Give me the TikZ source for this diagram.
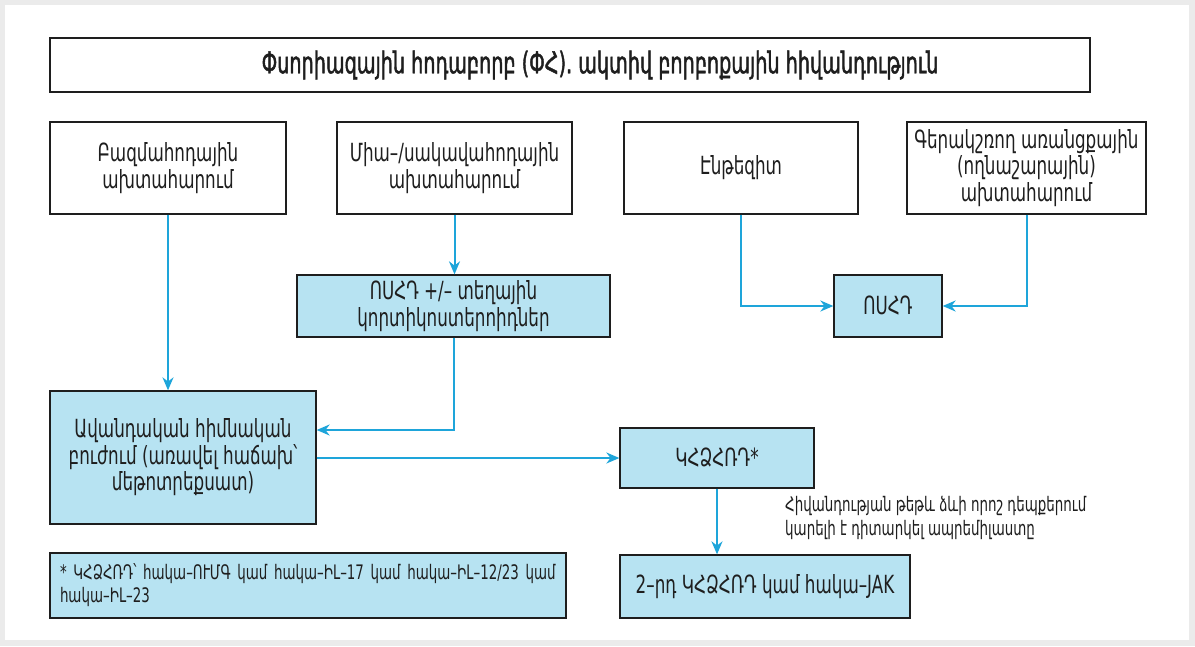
\documentclass[tikz,border=0pt]{standalone}
\usepackage{fontspec}
\setmainfont{DejaVu Sans}[FakeStretch=0.67]
\newfontfamily\headfont{DejaVu Sans}[FakeStretch=0.64, FakeBold=1.4]
\usetikzlibrary{arrows.meta}
\definecolor{panelgray}{HTML}{EBEBEB}
\definecolor{boxblue}{HTML}{B7E3F2}
\definecolor{arrowblue}{HTML}{1EA5DA}
\definecolor{inkgray}{HTML}{1E1E1E}
\begin{document}
\begin{tikzpicture}[x=1pt,y=-1pt,
  every node/.style={text=inkgray},
  box/.style={draw=inkgray, line width=1.3pt, fill=white, align=center,
              inner sep=2pt, font=\fontsize{25}{26.5}\selectfont},
  bluebox/.style={box, fill=boxblue},
  arr/.style={draw=arrowblue, line width=2pt, -{Stealth[length=13pt,width=11pt]}}]
  % page and panel
  \fill[panelgray] (0,0) rectangle (1195,646);
  \fill[white] (5,5) rectangle (1189,640);
  \useasboundingbox (0,0) rectangle (1195,646);

  % title
  \node[box, minimum width=1040pt, minimum height=54pt,
        font=\headfont\fontsize{30}{32}\selectfont] (title) at (570,65)
    {\hspace*{60pt}Փսորիազային հոդաբորբ (ՓՀ). ակտիվ բորբոքային հիվանդություն};

  % disease domains
  \node[box, minimum width=236pt, minimum height=92pt] (poly) at (168,168)
    {Բազմահոդային\\ախտահարում};
  \node[box, minimum width=235pt, minimum height=92pt] (oligo) at (454.5,168)
    {Միա–/սակավահոդային\\ախտահարում};
  \node[box, minimum width=234pt, minimum height=92pt] (enth) at (741,168)
    {Էնթեզիտ};
  \node[box, minimum width=239pt, minimum height=92pt] (axial) at (1026.5,168)
    {Գերակշռող առանցքային\\(ողնաշարային)\\ախտահարում};

  % treatments
  \node[bluebox, minimum width=313pt, minimum height=62pt] (nsaidcs) at (453.5,306)
    {ՈՍՀԴ +/– տեղային\\կորտիկոստերոիդներ};
  \node[bluebox, minimum width=108pt, minimum height=62pt] (nsaid) at (888,306)
    {ՈՍՀԴ};
  \node[bluebox, minimum width=266pt, minimum height=133pt] (csdmard) at (183,457.5)
    {Ավանդական հիմնական\\բուժում (առավել հաճախ՝\\մեթոտրեքսատ)};
  \node[bluebox, minimum width=194pt, minimum height=60pt] (bdmard) at (717,458)
    {ԿՀՁՀՌԴ*};
  \node[bluebox, minimum width=290pt, minimum height=63pt] (second) at (765,586.5)
    {2–րդ ԿՀՁՀՌԴ կամ հակա–JAK};

  % side remark and footnote
  \node[anchor=north west, align=left, inner sep=0pt,
        font=\fontsize{20}{24}\selectfont] (remark) at (785,496)
    {Հիվանդության թեթև ձևի որոշ դեպքերում\\կարելի է դիտարկել ապրեմիլաստը};
  \node[bluebox, minimum width=516pt, minimum height=65pt, text width=496pt,
        align=left, font=\fontsize{20}{23}\selectfont] (foot) at (308,585.5)
    {* ԿՀՁՀՌԴ՝ հակա–ՈՒՄԳ կամ հակա–ԻԼ–17 կամ հակա–ԻԼ–12/23 կամ\\հակա–ԻԼ–23};

  % connectors
  \draw[arr] (poly.south) -- (poly.south |- csdmard.north);
  \draw[arr] (oligo.south) -- (oligo.south |- nsaidcs.north);
  \draw[arr] (nsaidcs.south) |- ([yshift=27.5pt]csdmard.east);
  \draw[arr] (enth.south) |- (nsaid.west);
  \draw[arr] (axial.south) |- (nsaid.east);
  \draw[arr] (csdmard.east |- bdmard.west) -- (bdmard.west);
  \draw[arr] (bdmard.south) -- (bdmard.south |- second.north);
\end{tikzpicture}
\end{document}
